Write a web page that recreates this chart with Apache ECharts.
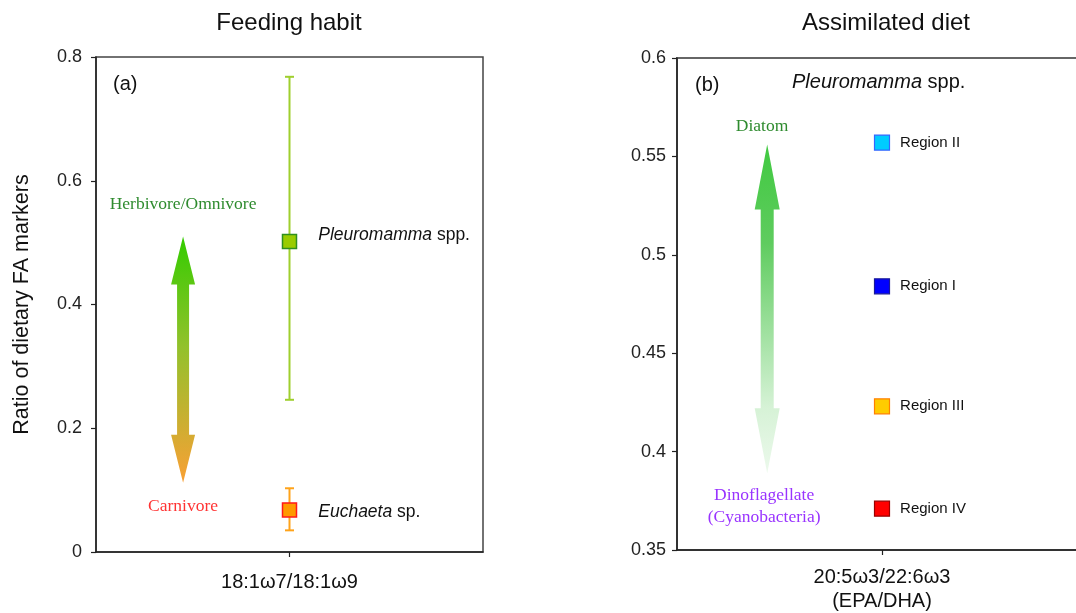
<!DOCTYPE html>
<html>
<head>
<meta charset="utf-8">
<script src="https://cdn.jsdelivr.net/npm/echarts@6/dist/echarts.min.js"></script>
<style>
html,body{margin:0;padding:0;background:#fff;}
#chart{width:1076px;height:613px;}
</style>
</head>
<body>
<div id="chart"></div>
<script>
// ---- Panel (a): Feeding habit ----
const aXLabel = '18:1ω7/18:1ω9';
const aTaxa = ['Pleuromamma', 'Euchaeta'];
const aTaxaSuffix = ['spp.', 'sp.'];
const aMeans = [0.502, 0.068];
const aLow = [0.246, 0.035];
const aHigh = [0.768, 0.103];
const aArrow = [0.45, 0.51, 0.112];          // x, top tip, bottom tip
const aArrowLabels = ['Herbivore/Omnivore', 'Carnivore'];
const aArrowLabelX = [0.45, 0.45];
const aArrowLabelY = [0.562, 0.073];

// ---- Panel (b): Assimilated diet ----
const bXLabel = '20:5ω3/22:6ω3\n(EPA/DHA)';
const bRegions = ['Region II', 'Region I', 'Region III', 'Region IV'];
const bValues = [0.557, 0.484, 0.423, 0.371];
const bArrow = [0.44, 0.556, 0.389];
const bArrowLabels = ['Diatom', 'Dinoflagellate\n(Cyanobacteria)'];
const bArrowLabelX = [0.415, 0.425];
const bArrowLabelY = [0.565, 0.3724];

const SANS = 'Liberation Sans, Arial, sans-serif';
const SERIF = 'Liberation Serif, Times New Roman, serif';

const chart = echarts.init(document.getElementById('chart'), null, {renderer: 'canvas'});

function arrowRender(colors, headLen, headW, shaftW) {
  return function (params, api) {
    const top = api.coord([api.value(0), api.value(1)]);
    const bot = api.coord([api.value(0), api.value(2)]);
    const x = top[0];
    const pts = [
      [x, top[1]],
      [x + headW / 2, top[1] + headLen],
      [x + shaftW / 2, top[1] + headLen],
      [x + shaftW / 2, bot[1] - headLen],
      [x + headW / 2, bot[1] - headLen],
      [x, bot[1]],
      [x - headW / 2, bot[1] - headLen],
      [x - shaftW / 2, bot[1] - headLen],
      [x - shaftW / 2, top[1] + headLen],
      [x - headW / 2, top[1] + headLen]
    ];
    return {
      type: 'polygon',
      shape: {points: pts},
      style: {fill: new echarts.graphic.LinearGradient(0, 0, 0, 1, colors)}
    };
  };
}

const errColors = ['#9fcf2e', '#ffa31a'];
const markerFill = ['#99cc00', '#ff9900'];
const markerBorder = ['#2f8f1f', '#ff1a1a'];
const regionFill = ['#00ccff', '#0000ff', '#ffcc00', '#ff0000'];
const regionBorder = ['#3366ff', '#1a1a99', '#ff8000', '#990000'];
const aArrowLabelColors = ['#2e8b2e', '#ff3333'];
const bArrowLabelColors = ['#2e8b2e', '#9933ff'];

const axisY = (gridIndex, min, max, interval, margin) => ({
  type: 'value', gridIndex, min, max, interval,
  splitLine: {show: false},
  axisLine: {show: true, lineStyle: {color: '#222', width: 1.5}},
  axisTick: {show: true, length: 5, lineStyle: {color: '#222', width: 1.2}},
  axisLabel: {color: '#222', fontSize: 18, fontFamily: SANS, margin: margin}
});

const axisX = (gridIndex, label, margin) => ({
  type: 'value', gridIndex, min: 0, max: 2,
  splitLine: {show: false},
  axisLine: {show: true, onZero: false, lineStyle: {color: '#222', width: 1.5}},
  axisTick: {show: true, length: 5, customValues: [1], lineStyle: {color: '#222', width: 1.2}},
  axisLabel: {customValues: [1], formatter: () => label, color: '#111', fontSize: 20,
    fontFamily: SANS, margin: margin, lineHeight: 23.5}
});

const option = {
  backgroundColor: '#fff',
  animation: false,
  title: [
    {text: 'Feeding habit', left: 284, top: 6, textAlign: 'center',
      textStyle: {fontFamily: SANS, fontSize: 24, fontWeight: 'normal', color: '#111'}},
    {text: 'Assimilated diet', left: 881, top: 6, textAlign: 'center',
      textStyle: {fontFamily: SANS, fontSize: 24, fontWeight: 'normal', color: '#111'}}
  ],
  grid: [
    {left: 96, top: 57, width: 387, height: 495, show: true, borderColor: '#444', borderWidth: 1.5,
      backgroundColor: 'transparent', outerBoundsMode: 'none', containLabel: false},
    {left: 677, top: 58, width: 410, height: 492, show: true, borderColor: '#666', borderWidth: 2,
      backgroundColor: 'transparent', outerBoundsMode: 'none', containLabel: false}
  ],
  xAxis: [axisX(0, aXLabel, 19), axisX(1, bXLabel, 16)],
  yAxis: [
    Object.assign(axisY(0, 0, 0.8, 0.2, 14), {
      name: 'Ratio of dietary FA markers', nameLocation: 'middle', nameRotate: 90, nameGap: 63,
      nameTextStyle: {fontFamily: SANS, fontSize: 21.5, color: '#111'}
    }),
    axisY(1, 0.35, 0.6, 0.05, 11)
  ],
  graphic: [
    {type: 'text', left: 113, top: 74, style: {text: '(a)', fontFamily: SANS, fontSize: 20, fill: '#111'}},
    {type: 'text', left: 695, top: 75, style: {text: '(b)', fontFamily: SANS, fontSize: 20, fill: '#111'}},
    {type: 'text', left: 792, top: 72, style: {
      text: '{i|Pleuromamma} spp.', fontFamily: SANS, fontSize: 20, fill: '#111',
      rich: {i: {fontStyle: 'italic', fontFamily: SANS, fontSize: 20, fill: '#111'}}
    }}
  ],
  series: [
    // arrows
    {type: 'custom', xAxisIndex: 0, yAxisIndex: 0, silent: true,
      renderItem: arrowRender([{offset: 0, color: '#33cc00'}, {offset: 0.45, color: '#93c12c'}, {offset: 1, color: '#f9a035'}], 48, 24, 12),
      data: [aArrow], z: 1},
    {type: 'custom', xAxisIndex: 1, yAxisIndex: 1, silent: true,
      renderItem: arrowRender([{offset: 0, color: '#40c940'}, {offset: 0.3, color: '#5fcc5f'}, {offset: 0.8, color: '#d6f2d6'}, {offset: 1, color: '#ecf9ec'}], 65, 25, 13),
      data: [bArrow], z: 1},
    // arrow labels
    {type: 'scatter', xAxisIndex: 0, yAxisIndex: 0, symbolSize: 0, silent: true,
      itemStyle: {opacity: 1},
      data: aArrowLabels.map((t, i) => ({name: t, value: [aArrowLabelX[i], aArrowLabelY[i]],
        label: {color: aArrowLabelColors[i]}})),
      label: {show: true, position: 'inside', formatter: p => p.name, fontFamily: SERIF, fontSize: 17.5}
    },
    {type: 'scatter', xAxisIndex: 1, yAxisIndex: 1, symbolSize: 0, silent: true,
      itemStyle: {opacity: 1},
      data: bArrowLabels.map((t, i) => ({name: t, value: [bArrowLabelX[i], bArrowLabelY[i]],
        label: {color: bArrowLabelColors[i]}})),
      label: {show: true, position: 'inside', formatter: p => p.name, fontFamily: SERIF, fontSize: 17.5, lineHeight: 22}
    },
    // error bars (a)
    {type: 'custom', xAxisIndex: 0, yAxisIndex: 0, silent: true, z: 3,
      data: aMeans.map((m, i) => [1, aLow[i], aHigh[i]]),
      renderItem: function (params, api) {
        const lo = api.coord([api.value(0), api.value(1)]);
        const hi = api.coord([api.value(0), api.value(2)]);
        const c = errColors[params.dataIndex];
        const w = 4.5;
        const st = {stroke: c, lineWidth: 2};
        return {type: 'group', children: [
          {type: 'line', shape: {x1: lo[0], y1: lo[1], x2: hi[0], y2: hi[1]}, style: st},
          {type: 'line', shape: {x1: lo[0] - w, y1: lo[1], x2: lo[0] + w, y2: lo[1]}, style: st},
          {type: 'line', shape: {x1: hi[0] - w, y1: hi[1], x2: hi[0] + w, y2: hi[1]}, style: st}
        ]};
      }},
    // markers (a)
    {type: 'scatter', xAxisIndex: 0, yAxisIndex: 0, symbol: 'rect', symbolSize: 14, z: 4,
      data: aMeans.map((m, i) => ({
        name: aTaxa[i], value: [1, m],
        itemStyle: {color: markerFill[i], borderColor: markerBorder[i], borderWidth: 1.5, opacity: 1},
        label: {offset: [0, i === 0 ? -6 : 2]}
      })),
      label: {show: true, position: 'right', distance: 21, fontFamily: SANS, fontSize: 17.5, color: '#111',
        formatter: p => '{i|' + aTaxa[p.dataIndex] + '} ' + aTaxaSuffix[p.dataIndex],
        rich: {i: {fontStyle: 'italic', fontFamily: SANS, fontSize: 17.5, color: '#111'}}}
    },
    // markers (b)
    {type: 'scatter', xAxisIndex: 1, yAxisIndex: 1, symbol: 'rect', symbolSize: 15, z: 4,
      data: bValues.map((v, i) => ({
        name: bRegions[i], value: [1, v],
        itemStyle: {color: regionFill[i], borderColor: regionBorder[i], borderWidth: 1.2, opacity: 1}
      })),
      label: {show: true, position: 'right', distance: 10, fontFamily: SANS, fontSize: 15, color: '#111',
        formatter: p => p.name}
    }
  ]
};

chart.setOption(option);
</script>
</body>
</html>
